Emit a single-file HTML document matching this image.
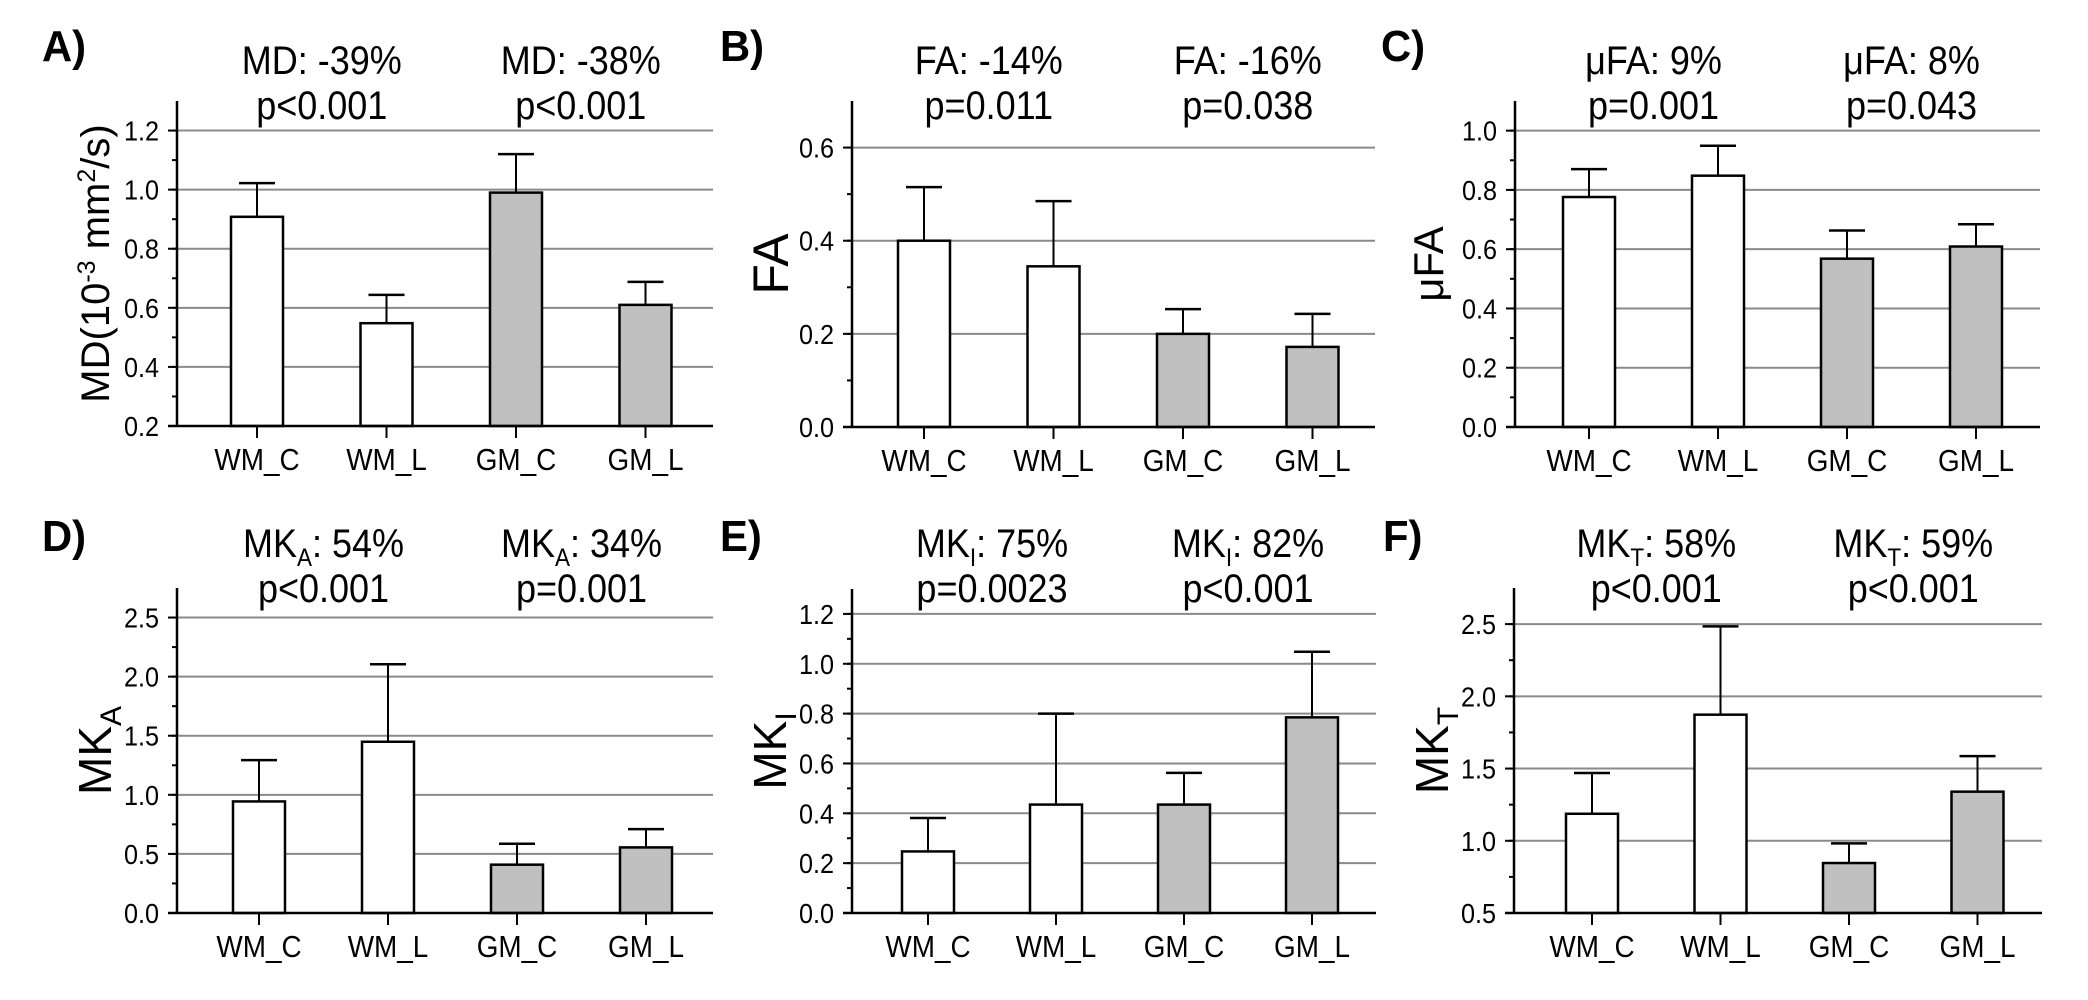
<!DOCTYPE html>
<html><head><meta charset="utf-8"><style>
html,body{margin:0;padding:0;background:#fff;}
svg{display:block;font-family:"Liberation Sans",Arial,sans-serif;}
</style></head>
<body>
<svg id="fig" width="2088" height="1000" viewBox="0 0 2088 1000" xmlns="http://www.w3.org/2000/svg"></svg>
<script>
const categories = ["WM_C","WM_L","GM_C","GM_L"];
const mdValues = [0.908, 0.548, 0.99, 0.61];
const mdErr = [1.022, 0.644, 1.12, 0.688];
const faValues = [0.40, 0.345, 0.20, 0.172];
const faErr = [0.515, 0.485, 0.253, 0.243];
const ufaValues = [0.776, 0.848, 0.568, 0.609];
const ufaErr = [0.870, 0.949, 0.663, 0.684];
const mkaValues = [0.944, 1.449, 0.409, 0.555];
const mkaErr = [1.294, 2.105, 0.586, 0.71];
const mkiValues = [0.247, 0.435, 0.435, 0.785];
const mkiErr = [0.381, 0.80, 0.562, 1.048];
const mktValues = [1.187, 1.873, 0.846, 1.34];
const mktErr = [1.469, 2.484, 0.982, 1.586];
const mdTicks = ["0.2","0.4","0.6","0.8","1.0","1.2"];
const faTicks = ["0.0","0.2","0.4","0.6"];
const ufaTicks = ["0.0","0.2","0.4","0.6","0.8","1.0"];
const mkaTicks = ["0.0","0.5","1.0","1.5","2.0","2.5"];
const mkiTicks = ["0.0","0.2","0.4","0.6","0.8","1.0","1.2"];
const mktTicks = ["0.5","1.0","1.5","2.0","2.5"];

const NS="http://www.w3.org/2000/svg";
const svg=document.getElementById('fig');
function mk(tag,attrs,parent){const e=document.createElementNS(NS,tag);for(const k in attrs)e.setAttribute(k,attrs[k]);(parent||svg).appendChild(e);return e;}
function txt(parent,x,y,size,anchor,sx,extra){
  const a={x:0,y:0,'font-size':size,'text-anchor':anchor,fill:'#000',transform:`translate(${x},${y}) scale(${sx},1)`};
  if(extra)for(const k in extra)a[k]=extra[k];
  return mk('text',a,parent);
}

const panels=[
 {id:"a",letter:"A)",lx:42,ly:61,ax:177,right:713,top:101,bottom:426,ymin:0.2,ymax:1.3,minor:0.1,ticks:mdTicks,vals:mdValues,err:mdErr,off:80,step:129.5,
  titles:[["MD: -39%",null],["MD: -38%",null]],ps:["p<0.001","p<0.001"],t1:74,t2:119,ylab:"md"},
 {id:"b",letter:"B)",lx:720,ly:61,ax:852,right:1375,top:101,bottom:427,ymin:0,ymax:0.7,minor:0.1,ticks:faTicks,vals:faValues,err:faErr,off:72,step:129.5,
  titles:[["FA: -14%",null],["FA: -16%",null]],ps:["p=0.011","p=0.038"],t1:74,t2:119,ylab:"FA"},
 {id:"c",letter:"C)",lx:1381,ly:61,ax:1515,right:2040,top:101,bottom:427,ymin:0,ymax:1.1,minor:0.1,ticks:ufaTicks,vals:ufaValues,err:ufaErr,off:74,step:129,
  titles:[["μFA: 9%",null],["μFA: 8%",null]],ps:["p=0.001","p=0.043"],t1:74,t2:119,ylab:"μFA"},
 {id:"d",letter:"D)",lx:42,ly:551,ax:177,right:713,top:588,bottom:913,ymin:0,ymax:2.75,minor:0.25,ticks:mkaTicks,vals:mkaValues,err:mkaErr,off:82,step:129,
  titles:[["MK","A",": 54%"],["MK","A",": 34%"]],ps:["p<0.001","p=0.001"],t1:557,t2:602,ylab:["MK","A"]},
 {id:"e",letter:"E)",lx:720,ly:551,ax:852,right:1376,top:589,bottom:913,ymin:0,ymax:1.3,minor:0.1,ticks:mkiTicks,vals:mkiValues,err:mkiErr,off:76,step:128,
  titles:[["MK","I",": 75%"],["MK","I",": 82%"]],ps:["p=0.0023","p<0.001"],t1:557,t2:602,ylab:["MK","I"]},
 {id:"f",letter:"F)",lx:1383,ly:551,ax:1514,right:2042,top:588,bottom:913,ymin:0.5,ymax:2.75,minor:0.25,ticks:mktTicks,vals:mktValues,err:mktErr,off:78,step:128.5,
  titles:[["MK","T",": 58%"],["MK","T",": 59%"]],ps:["p<0.001","p<0.001"],t1:557,t2:602,ylab:["MK","T"]}
];

panels.forEach(p=>{
  const g=mk('g',{});
  
  
  const y=v=>p.bottom-(v-p.ymin)/(p.ymax-p.ymin)*(p.bottom-p.top);
  const x=i=>p.ax+p.off+i*p.step;
  const L=txt(g,p.lx,p.ly,44,'start',0.95,{'font-weight':'bold'});L.textContent=p.letter;
  
  
  p.ticks.forEach(t=>{
    const v=parseFloat(t), yy=y(v);
    if(Math.abs(v-p.ymin)>1e-6){
      const gl=mk('line',{x1:p.ax,x2:p.right,y1:yy,y2:yy,stroke:'#8a8a8a','stroke-width':2},g);
      
      
    }
    mk('line',{x1:p.ax-9,x2:p.ax,y1:yy,y2:yy,stroke:'#000','stroke-width':2},g);
    const tl=txt(g,p.ax-18,yy+10,28,'end',0.9);tl.textContent=t;
    
    
  });
  for(let v=p.ymin+p.minor; v<p.ymax-1e-6; v+=p.minor){
    mk('line',{x1:p.ax-5,x2:p.ax,y1:y(v),y2:y(v),stroke:'#000','stroke-width':2},g);
  }
  p.vals.forEach((v,i)=>{
    const cx=x(i), yt=y(v), ye=y(p.err[i]);
    const el=mk('line',{x1:cx,x2:cx,y1:yt,y2:ye,stroke:'#000','stroke-width':2},g);
    
    
    mk('line',{x1:cx-18,x2:cx+18,y1:ye,y2:ye,stroke:'#000','stroke-width':2.5},g);
    const r=mk('rect',{x:cx-26,y:yt,width:52,height:p.bottom-yt,fill:i<2?'#fff':'#c0c0c0',stroke:'#000','stroke-width':2.5},g);
    
    
    mk('line',{x1:cx,x2:cx,y1:p.bottom,y2:p.bottom+12,stroke:'#000','stroke-width':2},g);
    const xl=txt(g,cx,p.bottom+44,31,'middle',0.9);xl.textContent=categories[i];
    
    
  });
  const ya=mk('line',{x1:p.ax,x2:p.ax,y1:p.top,y2:p.bottom+1,stroke:'#000','stroke-width':2.5},g);
  
  
  const xa=mk('line',{x1:p.ax-9,x2:p.right,y1:p.bottom,y2:p.bottom,stroke:'#000','stroke-width':2.5},g);
  
  
  [0,1].forEach(k=>{
    const cx=(x(2*k)+x(2*k+1))/2;
    const t=txt(g,cx,p.t1,40,'middle',0.9);
    const tt=p.titles[k];
    if(tt[1]===null){t.textContent=tt[0];}
    else{
      const a=mk('tspan',{},t);a.textContent=tt[0];
      const b=mk('tspan',{dy:9,'font-size':25},t);b.textContent=tt[1];
      const c=mk('tspan',{dy:-9},t);c.textContent=tt[2];
    }
    
    
    const pt=txt(g,cx,p.t2,40,'middle',0.9);pt.textContent=p.ps[k];
    
    
  });
  const lx=p.ax-(p.id==='c'?82:82), ly=(p.top+p.bottom)/2;
  const yl=mk('text',{x:0,y:0,'text-anchor':'middle',fill:'#000',transform:`translate(${lx+16},${ly}) rotate(-90)`},g);
  
  
  if(p.ylab==='md'){
    yl.setAttribute('font-size',40);
    yl.setAttribute('transform',`translate(${lx+14},${ly}) rotate(-90)`);
    const a=mk('tspan',{},yl);a.textContent='MD(10';
    const b=mk('tspan',{dy:-14,'font-size':25},yl);b.textContent='-3';
    const c=mk('tspan',{dy:14},yl);c.textContent=' mm';
    const d=mk('tspan',{dy:-14,'font-size':25},yl);d.textContent='2';
    const e=mk('tspan',{dy:14},yl);e.textContent='/s)';
  } else if(p.ylab==='FA'){
    yl.setAttribute('font-size',50);
    yl.setAttribute('transform',`translate(${lx+18},${ly}) rotate(-90)`);
    yl.textContent=p.ylab;
  } else if(typeof p.ylab==='string'){
    yl.setAttribute('font-size',42);
    yl.setAttribute('transform',`translate(${lx+10},${ly}) rotate(-90)`);
    yl.textContent=p.ylab;
  } else {
    yl.setAttribute('font-size',46);
    const a=mk('tspan',{},yl);a.textContent=p.ylab[0];
    const b=mk('tspan',{dy:10,'font-size':30},yl);b.textContent=p.ylab[1];
  }
});
</script>
</body></html>
